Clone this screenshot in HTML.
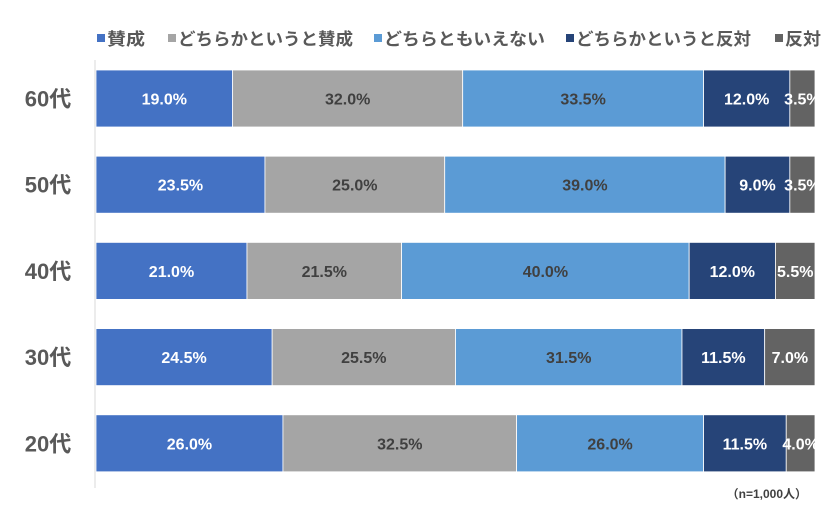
<!DOCTYPE html>
<html><head><meta charset="utf-8"><style>
body{margin:0;background:#fff;}
svg{display:block;font-family:"Liberation Sans","Noto Sans CJK JP",sans-serif;}
</style></head><body>
<svg id="chart" width="840" height="512" viewBox="0 0 840 512"></svg>
<script>
const categories=["60代","50代","40代","30代","20代"];
const seriesNames=["賛成","どちらかというと賛成","どちらともいえない","どちらかというと反対","反対"];
const s1=[19.0,23.5,21.0,24.5,26.0];
const s2=[32.0,25.0,21.5,25.5,32.5];
const s3=[33.5,39.0,40.0,31.5,26.0];
const s4=[12.0,9.0,12.0,11.5,11.5];
const s5=[3.5,3.5,5.5,7.0,4.0];
const series=[s1,s2,s3,s4,s5];
const colors=["#4472C4","#A5A5A5","#5B9BD5","#264478","#636363"];
const textColors=["#fff","#404040","#404040","#fff","#fff"];
const NS="http://www.w3.org/2000/svg";
const svg=document.getElementById('chart');
const x0=96,pxPer=7.19;
const xs=v=>x0+v*pxPer;
const ys=i=>70+i*86.2;
const bh=57;
function mk(t,a){const e=document.createElementNS(NS,t);for(const k in a)e.setAttribute(k,a[k]);svg.appendChild(e);return e;}
const ax=mk('line',{x1:95,y1:60,x2:95,y2:488,stroke:'#d9d9d9','stroke-width':1});


categories.forEach((c,i)=>{
  const y=ys(i);
  const t=mk('text',{x:48,y:y+bh/2+8,'text-anchor':'middle','font-size':22,'font-weight':'bold',fill:'#595959'});
  t.textContent=c;
  
  
  let cum=0;
  series.forEach((s,j)=>{
    const v=s[i];
    const r=mk('rect',{x:xs(cum),y:y,width:v*pxPer,height:bh,fill:colors[j],stroke:'#fff','stroke-width':0.8});
    
    
    const l=mk('text',{x:xs(cum+v/2),y:y+bh/2+6,'text-anchor':'middle','font-size':16,'font-weight':'bold',fill:textColors[j]});
    l.textContent=v.toFixed(1)+'%';
    
    
    cum+=v;
  });
});
const legX=[97,168,374,566,775];
const legW=[38,175,161,175,36];
seriesNames.forEach((n,j)=>{
  const r=mk('rect',{x:legX[j],y:34,width:8,height:8,fill:colors[j]});
  
  
  const t=mk('text',{x:legX[j]+10,y:45,'font-size':17,'font-weight':'bold',fill:'#595959',textLength:legW[j],lengthAdjust:'spacingAndGlyphs'});
  t.textContent=n;
  
  
});
const note=mk('text',{x:807,y:498,'text-anchor':'end','font-size':12,'font-weight':'bold',fill:'#404040'});
note.textContent='（n=1,000人）';


</script>
</body></html>
